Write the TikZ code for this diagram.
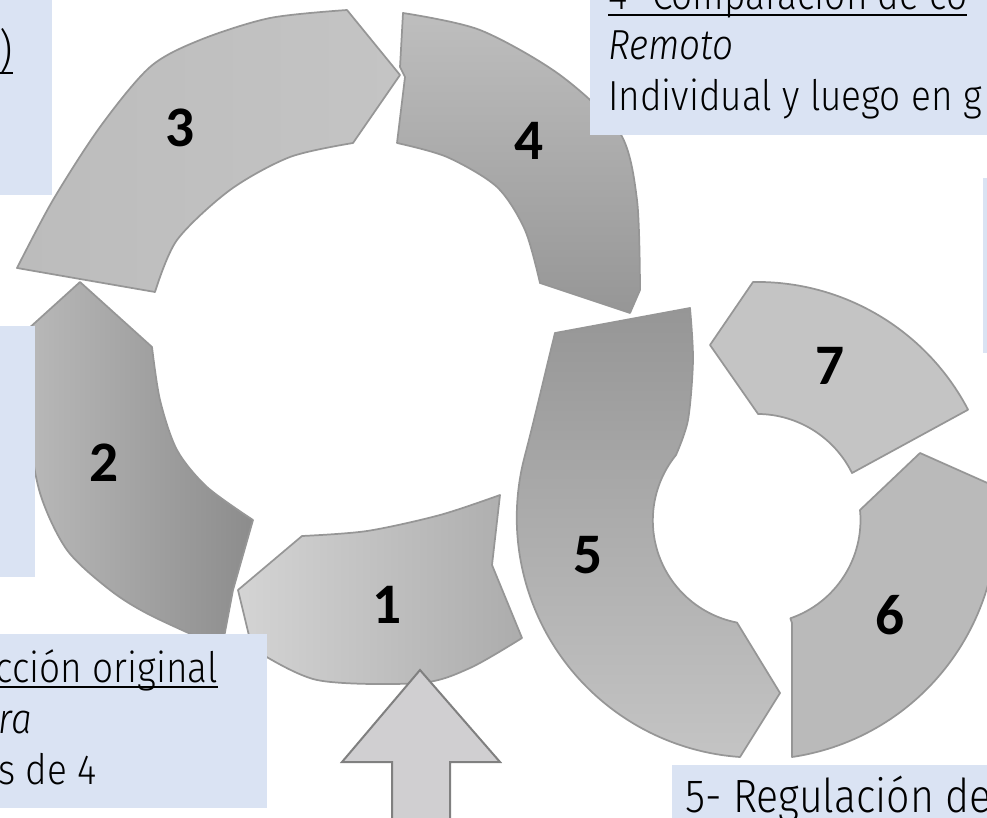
\documentclass[tikz,border=0pt]{standalone}
\usepackage{fontspec}
\setmainfont{Fira Sans}[UprightFont=* Light, ItalicFont=* Light Italic, FakeStretch=0.88]
\newfontfamily\numfont{Carlito}
\newcommand{\ulbox}[1]{{\setbox0\hbox{#1}\rlap{\rule[-0.15em]{\wd0}{0.045em}}\box0}}

\tikzset{
  seg/.style={draw={rgb, 255:red, 150; green, 150; blue, 150 }, line width=1.3, line join=round},
  infobox/.style={fill={rgb, 255:red, 218; green, 227; blue, 243 }, draw=none},
  numlbl/.style={inner sep=0pt, font=\numfont\bfseries\fontsize{43}{43}\selectfont},
  txt/.style={inner sep=0pt, font=\fontsize{31.5}{36}\selectfont},
  bigtxt/.style={inner sep=0pt, font=\fontsize{35}{40}\selectfont},
  uparrow/.style={fill={rgb, 255:red, 208; green, 207; blue, 209 }, draw={rgb, 255:red, 128; green, 128; blue, 128 }, line width=1.5}
}

\begin{document}
\begin{tikzpicture}[x=0.75pt,y=0.75pt,yscale=-1,xscale=1]
\useasboundingbox (0,0) rectangle (987,817);
\clip (0,0) rectangle (987,817);

%Shape: Segment 1
\draw [seg, left color={rgb, 255:red, 212; green, 212; blue, 212 }, right color={rgb, 255:red, 172; green, 172; blue, 172 }]
  (238,590) -- (302,536) -- plot[smooth] coordinates {(302,536) (367,531) (440,515) (500,495)}
  -- (492,565) -- (522,638)
  -- plot[smooth] coordinates {(522,638) (470,668) (420,683) (317,680) (252,648)} -- cycle ;
%Shape: Segment 2
\draw [seg, left color={rgb, 255:red, 185; green, 185; blue, 185 }, right color={rgb, 255:red, 140; green, 140; blue, 140 }]
  (80,282) -- (152,347) -- plot[smooth] coordinates {(152,347) (160,400) (177,450) (207,487) (253,520)}
  -- (233,590) -- (222,648)
  -- plot[smooth] coordinates {(222,648) (150,615) (110,590) (67,550) (40,493) (28,420) (27,330)} -- cycle ;
%Shape: Segment 3
\draw [seg, left color={rgb, 255:red, 188; green, 188; blue, 188 }, right color={rgb, 255:red, 196; green, 196; blue, 196 }]
  (17,268) -- (80,279) -- (155,292) -- plot[smooth] coordinates {(155,292) (177,240) (230,190) (290,157) (353,143)}
  -- (400,75) -- (347,10)
  -- plot[smooth] coordinates {(347,10) (270,18) (200,40) (150,67) (100,127) (53,200) (17,268)} -- cycle ;
%Shape: Segment 4
\draw [seg, top color={rgb, 255:red, 190; green, 190; blue, 190 }, bottom color={rgb, 255:red, 150; green, 150; blue, 150 }]
  (403,13) -- (400,67) -- (405,77) -- (397,143) -- plot[smooth] coordinates {(397,143) (447,157) (497,187) (525,230) (540,283)}
  -- (630,313) -- (640,290)
  -- plot[smooth] coordinates {(640,290) (637,200) (620,133) (560,75) (480,30) (403,13)} -- cycle ;
%Shape: Segment 5
\draw [seg, top color={rgb, 255:red, 150; green, 150; blue, 150 }, bottom color={rgb, 255:red, 196; green, 196; blue, 196 }]
  (555,333) -- (690,308) -- plot[smooth] coordinates {(690,308) (693,360) (688,420) (676,455)}
  arc[start angle=219, end angle=101, radius=104]
  -- (780,693) -- (740,757)
  arc[start angle=94, end angle=195, radius=240]
  .. controls (535,417) and (547,365) .. (555,333) -- cycle ;
%Shape: Segment 6
\draw [seg, fill={rgb, 255:red, 186; green, 186; blue, 186 }]
  (792,623) -- (792,757) arc[start angle=81.6, end angle=-8, radius=240]
  -- (920,453) -- (860,510) arc[start angle=-5.5, end angle=71, radius=104] -- cycle ;
%Shape: Segment 7
\draw [seg, fill={rgb, 255:red, 196; green, 196; blue, 196 }]
  (710,345) -- (753,282) arc[start angle=-91, end angle=-27.6, radius=238]
  -- (852,473) arc[start angle=-26.3, end angle=-89.4, radius=106] -- cycle ;

%Shape: Up Arrow
\draw [uparrow] (392,825) -- (392,762) -- (342,762) -- (420,670) -- (500,762) -- (450,762) -- (450,825) ;

%Shape: Boxes
\draw [infobox] (-2,-2) rectangle (52,195) ;
\draw [infobox] (590,-2) rectangle (990,135) ;
\draw [infobox] (983,178) rectangle (990,353) ;
\draw [infobox] (-2,326) rectangle (35,577) ;
\draw [infobox] (-2,634) rectangle (267,808) ;
\draw [infobox] (672,765) rectangle (990,820) ;

% Text Node
\node [numlbl] (n1) at (387,605) {1};
% Text Node
\node [numlbl] (n2) at (104,463) {2};
% Text Node
\node [numlbl] (n3) at (180,128) {3};
% Text Node
\node [numlbl] (n4) at (529,141) {4};
% Text Node
\node [numlbl] (n5) at (588,555) {5};
% Text Node
\node [numlbl] (n6) at (890,615) {6};
% Text Node
\node [numlbl] (n7) at (830,366) {7};

% Text Node
\node [bigtxt, anchor=base east] (tpar) at (13,67) {\ulbox{)}};
% Text Node
\node [txt, anchor=base west] (tcomp) at (608,10) {\ulbox{4- Comparación de co}};
% Text Node
\node [txt, anchor=base west] (tremoto) at (608,60) {\itshape Remoto};
% Text Node
\node [txt, anchor=base west] (tindiv) at (608,110) {Individual y luego en g};
% Text Node
\node [txt, anchor=base east] (torig) at (218,682) {\ulbox{cción original}};
% Text Node
\node [txt, anchor=base east] (tra) at (32,733) {\itshape ra};
% Text Node
\node [txt, anchor=base east] (tde) at (97,784) {s de 4};
% Text Node
\node [bigtxt, anchor=base west] (treg) at (685,812) {5- Regulación de};

\end{tikzpicture}
\end{document}
